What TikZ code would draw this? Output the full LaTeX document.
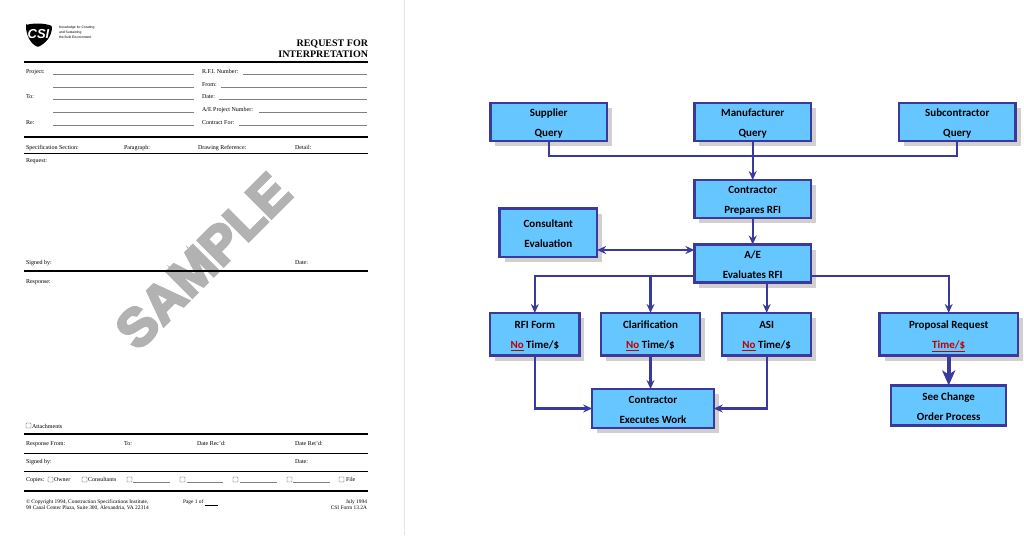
\documentclass[tikz,border=0pt]{standalone}
\usepackage{xcolor}
\usepackage{fontspec}
\setmainfont{Liberation Serif}
\newfontfamily\boxfont{Carlito}
\newfontfamily\stampfont[BoldFeatures={FakeBold=5}]{Liberation Sans}
\newfontfamily\tagfont{Liberation Sans}
\usepackage{tikz}
\usetikzlibrary{positioning,arrows.meta,shadows}
\definecolor{boxblue}{HTML}{66C6FF}
\definecolor{linkblue}{HTML}{3A3A9E}
\definecolor{shadowgrey}{HTML}{D3CFCF}
\definecolor{stampgrey}{HTML}{B2B2B2}
\definecolor{nored}{HTML}{C00000}
\newcommand{\notime}{\textcolor{nored}{\underline{No}} Time/\$}

\begin{document}
\begin{tikzpicture}[x=1pt,y=-1pt,inner sep=0pt,outer sep=0pt]
\tikzstyle{main}=[rectangle, draw=linkblue, line width=2.4pt, fill=boxblue, align=center, font=\boxfont\bfseries\fontsize{11}{20}\selectfont, execute at begin node={\rule[-3pt]{0pt}{35pt}}]
\tikzstyle{shade}=[main, drop shadow={shadow xshift=5pt, shadow yshift=-5pt, fill=shadowgrey, opacity=1}]
\tikzstyle{connect}=[-{Stealth[length=9pt,width=8pt,inset=3pt]}, line width=2.3pt, draw=linkblue]
\tikzstyle{plain}=[line width=2.3pt, draw=linkblue]
\tikzstyle{fat}=[-{Stealth[length=15pt,width=13pt,inset=4pt]}, line width=3.8pt, draw=linkblue]
\tikzstyle{form}=[anchor=base west, font=\fontsize{6}{6}\selectfont]
\tikzstyle{fine}=[anchor=base west, font=\fontsize{5.4}{6}\selectfont]
\tikzstyle{finer}=[anchor=base east, font=\fontsize{5.4}{6}\selectfont]
\tikzstyle{rule}=[draw=black, line width=1pt]
\tikzstyle{heavy}=[draw=black, line width=1.9pt]
\tikzstyle{blank}=[draw=black!50, line width=0.4pt]
\tikzstyle{tick}=[draw=black!70, line width=0.35pt, rounded corners=0.5pt]
\useasboundingbox (0,0) rectangle (1024,535);
\fill[white] (0,0) rectangle (1024,535);
\draw[black!10, line width=0.8pt] (404.5,0) -- (404.5,535);
% form sheet
\node[rotate=45, text=stampgrey, font=\stampfont\bfseries\fontsize{53}{53}\selectfont] (stamp) at (203,261) {SAMPLE};
\fill[black, rounded corners=1pt] (26,25) .. controls (34,23) and (44,23) .. (52,26) .. controls (52,36) and (46,43) .. (38,47) .. controls (31,44) and (26,36) .. (26,25) -- cycle;
\node[text=white, font=\tagfont\bfseries\itshape\fontsize{13}{13}\selectfont] (logo) at (38.5,34) {CSI};
\node[anchor=north west, align=left, font=\tagfont\fontsize{3.4}{5}\selectfont] (tagline) at (59,26) {Knowledge for Creating\\and Sustaining\\the Built Environment};
\node[finer, font=\bfseries\fontsize{10}{10}\selectfont] (title) at (368,46.5) {REQUEST FOR};
\node[finer, font=\bfseries\fontsize{10}{10}\selectfont] (subtitle) at (368,58) {INTERPRETATION};
\foreach \ya/\yb/\wgt in {62/62/heavy,137/137/heavy,153/153/rule,271/271/heavy,434/434/heavy,453/453/rule,471/471/rule,491/491/heavy}
  \draw[\wgt] (24,\ya) -- (368,\yb);
\foreach \ya in {74,87,99,112,125}
  \draw[blank] (53,\ya) -- (194,\ya);
\foreach \xa/\ya/\lab in {243/74/R.F.I. Number:,221/87/From:,219/99/Date:,259/112/{A/E Project Number:},239/125/Contract For:}{
  \draw[blank] (\xa,\ya) -- (367,\ya);
  \node[form] at (202,\ya-0.5) {\lab};
}
\foreach \xa/\ya/\lab in {26/74/Project:,26/98/To:,26/124/Re:,26/149/Specification Section:,124/149/Paragraph:,198/149/Drawing Reference:,295/149/Detail:,26/162/Request:,26/264/Signed by:,295/264/Date:,26/283/Response:,32/428/Attachments,26/445/Response From:,124/445/To:,197/445/Date Rec'd:,295/445/Date Ret'd:,26/463/Signed by:,295/463/Date:,26/481/Copies:,54/481/Owner,88/481/Consultants,346/481/File}
  \node[form] at (\xa,\ya) {\lab};
\foreach \xa/\ya in {26/423,48/477,82/477,127/477,180/477,233/477,287/477,339/477}
  \draw[tick] (\xa,\ya) rectangle +(5,5);
\foreach \xa/\xb in {133/170,187/223,240/277,293/330}
  \draw[blank] (\xa,482) -- (\xb,482);
\node[fine] at (26,503.5) {\textcopyright{} Copyright 1994, Construction Specifications Institute,};
\node[fine] at (26,509.5) {99 Canal Center Plaza, Suite 300, Alexandria, VA 22314};
\node[fine] at (183,503.5) {Page 1 of \underline{\hspace{13pt}}};
\node[finer] at (367,503.5) {July 1994};
\node[finer] at (367,509.5) {CSI Form 13.2A};
% flow chart
\node[shade, minimum width=116.6pt, minimum height=38pt] (supplier) at (548.7,122) {Supplier\\Query};
\node[shade, minimum width=116.6pt, minimum height=38pt] (manufacturer) [right=87.4pt of supplier] {Manufacturer\\Query};
\node[shade, minimum width=116.6pt, minimum height=38pt] (subcontractor) [right=88pt of manufacturer] {Subcontractor\\Query};
\node[shade, minimum width=116.6pt, minimum height=38pt] (prepares) [below=39pt of manufacturer] {Contractor\\Prepares RFI};
\node[shade, minimum width=116.6pt, minimum height=38pt] (ae) [below=26.5pt of prepares] {A/E\\Evaluates RFI};
\node[shade, minimum width=97.6pt, minimum height=48.6pt] (consultant) at (548.3,232.8) {Consultant\\Evaluation};
\node[shade, minimum width=89.3pt, minimum height=42.6pt] (rfiform) at (534.8,334.2) {RFI Form\\\notime};
\node[shade, minimum width=98.6pt, minimum height=42.6pt] (clarification) at (650.5,334.2) {Clarification\\\notime};
\node[shade, minimum width=89pt, minimum height=42.6pt] (asi) at (766.7,334.2) {ASI\\\notime};
\node[shade, minimum width=138.3pt, minimum height=42.6pt] (proposal) at (948.7,334.2) {Proposal Request\\\textcolor{nored}{\underline{Time/\$}}};
\node[shade, minimum width=121.6pt, minimum height=39pt] (executes) at (653,408.5) {Contractor\\Executes Work};
\node[main, minimum width=115pt, minimum height=40pt] (change) at (948.7,405.5) {See Change\\Order Process};
\coordinate (querybus) at (manufacturer |- 0,156);
\coordinate (aebus) at ([yshift=-12.5pt]ae.west);
\coordinate (aeright) at ([yshift=-12.5pt]ae.east);
\coordinate (aeconsult) at ([yshift=13.5pt]ae.west);
\coordinate (consultae) at (consultant.east |- aeconsult);
\coordinate (rfitop) at (rfiform.north |- aebus);
\coordinate (claritop) at (clarification.north |- aebus);
\coordinate (proptop) at (proposal.north |- aebus);
\path[plain] (supplier.south) edge[to path={|- (\tikztotarget)}] (querybus)
      (subcontractor.south) edge[to path={|- (\tikztotarget)}] (querybus)
      (manufacturer.south) edge (querybus);
\draw[connect] (querybus) -- (prepares.north);
\draw[connect] (prepares.south) -- (ae.north);
\draw[connect, {Stealth[length=9pt,width=8pt,inset=3pt]}-{Stealth[length=9pt,width=8pt,inset=3pt]}] (consultae) -- (aeconsult);
\draw[plain, line cap=rect] (aebus) -- (rfitop);
\draw[connect] (rfitop) -- (rfiform.north);
\draw[connect] (claritop) -- (clarification.north);
\draw[connect] (ae.south -| asi.north) -- (asi.north);
\draw[plain, line cap=rect] (aeright) -- (proptop);
\draw[connect] (proptop) -- (proposal.north);
\draw[fat] (proposal.south) -- (change.north);
\draw[connect] (rfiform.south) |- (executes.west);
\draw[connect] (clarification.south) -- (executes.north -| clarification.south);
\draw[connect] (asi.south) |- (executes.east);
\end{tikzpicture}
\end{document}
